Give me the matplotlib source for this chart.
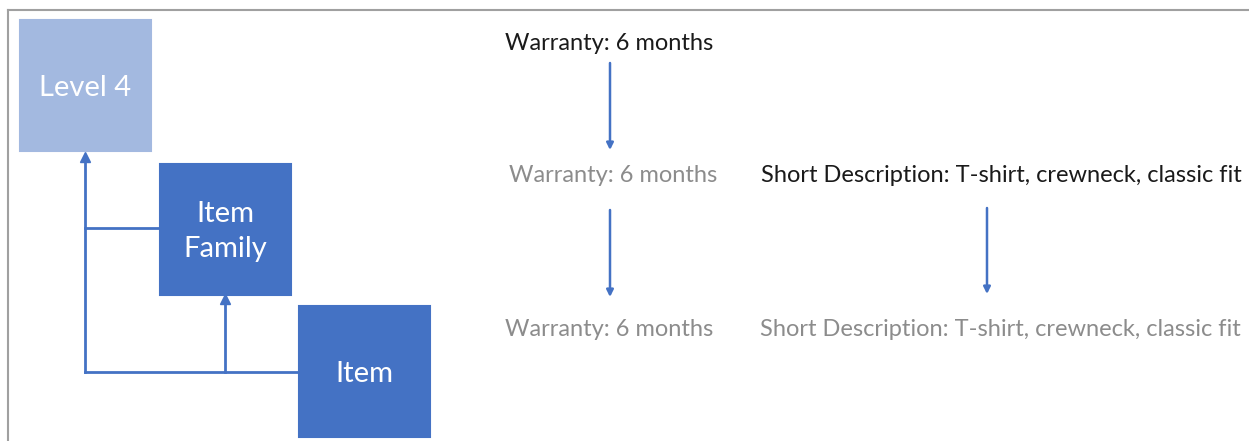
import matplotlib.pyplot as plt
from matplotlib.patches import Rectangle

plt.rcParams['font.family'] = ['Lato', 'DejaVu Sans']

# hierarchy boxes
box_labels = ["Level 4", "Item\nFamily", "Item"]
box_colors = ["#A3B9E0", "#4472C4", "#4472C4"]
box_xy = [(20, 20), (160, 164), (299, 306)]
box_size = 131

# inherited attribute text, rows top to bottom
warranty_rows = ["Warranty: 6 months", "Warranty: 6 months", "Warranty: 6 months"]
warranty_colors = ["#1a1a1a", "#8c8c8c", "#8c8c8c"]
short_desc_rows = ["Short Description: T-shirt, crewneck, classic fit",
                   "Short Description: T-shirt, crewneck, classic fit"]
short_desc_colors = ["#1a1a1a", "#8c8c8c"]

blue = "#4472C4"

fig = plt.figure(figsize=(12.49, 4.41), dpi=100)
ax = fig.add_axes([0, 0, 1, 1])
ax.set_xlim(0, 1249)
ax.set_ylim(441, 0)
ax.axis("off")

# frame (top and left only)
ax.plot([8, 1249], [9.5, 9.5], color="#a0a0a0", lw=1.5)
ax.plot([8, 8], [9.5, 441], color="#a0a0a0", lw=1.5)

# connectors
ax.plot([85, 85], [372, 158], color=blue, lw=2)
ax.plot([85, 160], [228, 228], color=blue, lw=2)
ax.plot([85, 299], [372, 372], color=blue, lw=2)
ax.plot([225, 225], [372, 300], color=blue, lw=2)
ax.plot([85], [157], marker="^", color=blue, ms=7)
ax.plot([225], [299], marker="^", color=blue, ms=7)

for (x, y), lab, col in zip(box_xy, box_labels, box_colors):
    ax.add_patch(Rectangle((x, y), box_size, box_size, facecolor=col,
                           edgecolor=col, lw=1.5))
    ax.text(x + box_size / 2, y + box_size / 2 + 2, lab, color="white",
            fontsize=21, ha="center", va="center", linespacing=1.45)

warranty_pos = [(609, 44), (613, 176), (609, 329)]
for (x, y), t, c in zip(warranty_pos, warranty_rows, warranty_colors):
    ax.text(x, y, t, color=c, fontsize=17, ha="center", va="center")

desc_pos = [(1001, 175), (1000, 329)]
for (x, y), t, c in zip(desc_pos, short_desc_rows, short_desc_colors):
    ax.text(x, y, t, color=c, fontsize=17, ha="center", va="center")

# down arrows
for x, y0, y1 in [(610, 63, 150), (610, 210, 297), (987, 208, 294)]:
    ax.annotate("", xy=(x, y1), xytext=(x, y0),
                arrowprops=dict(arrowstyle="-|>", color=blue, lw=1.8,
                                mutation_scale=10, shrinkA=0, shrinkB=0))

fig.savefig("out.png", dpi=100)
